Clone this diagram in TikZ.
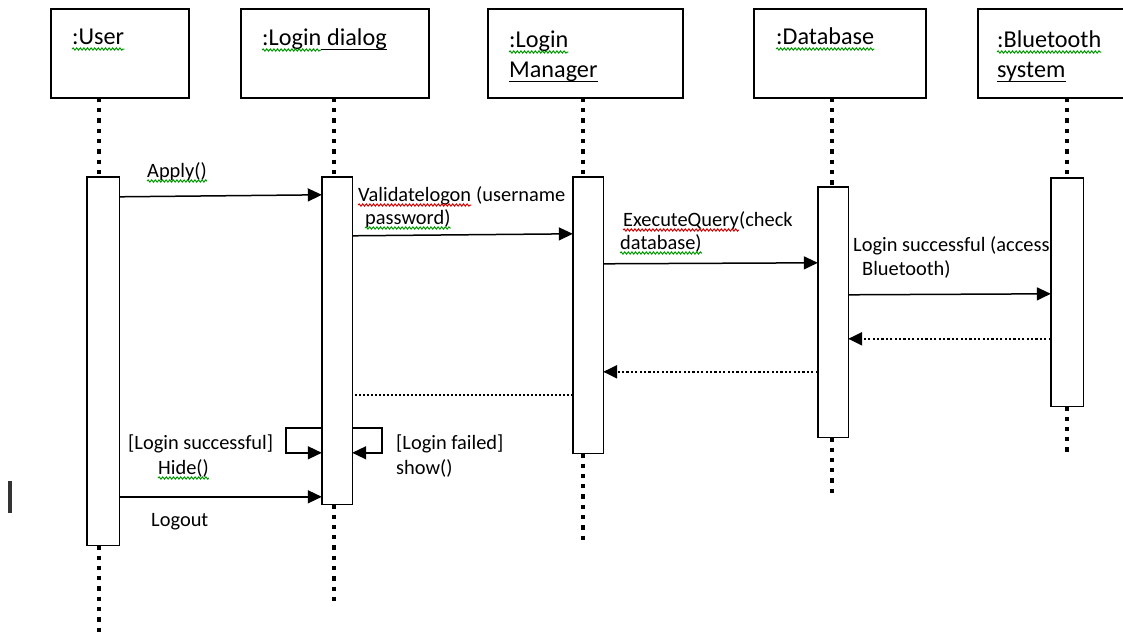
\documentclass[tikz,border=0pt]{standalone}
\usepackage{fontspec}
\setmainfont{Carlito}
\usetikzlibrary{arrows.meta,decorations.pathmorphing}

\begin{document}
\begin{tikzpicture}[x=1pt,y=-1pt,
  hdr/.style={font=\fontsize{24.2}{28}\selectfont, inner sep=0pt, anchor=base west},
  lbl/.style={font=\fontsize{20.4}{24}\selectfont, inner sep=0pt, anchor=base west},
  objbox/.style={draw, line width=1.6pt, fill=white, minimum height=87pt, inner sep=0pt},
  actbar/.style={draw, line width=1.4pt, fill=white, inner sep=0pt},
  life/.style={line width=4.3pt, dash pattern=on 4.3pt off 6pt},
  msg/.style={line width=1.5pt, -{Triangle[length=14pt,width=13pt]}},
  ret/.style={line width=2.2pt, dash pattern=on 2.2pt off 2.2pt, -{Triangle[length=14pt,width=13pt]}},
  retplain/.style={line width=2pt, dash pattern=on 2pt off 2pt},
  ul/.style={line width=1.3pt},
  spellg/.style={draw=green!60!black, line width=1pt, decorate,
                 decoration={snake, amplitude=1.1pt, segment length=3.6pt}},
  spellr/.style={spellg, draw=red!85!black}
]
\useasboundingbox (0,0) rectangle (1123,632);
\clip (0,0) rectangle (1123,632);

% object boxes
\node[objbox, minimum width=136pt] (oUser) at (120,53.5) {};
\node[objbox, minimum width=186pt] (oLd)   at (335,53.5) {};
\node[objbox, minimum width=193pt] (oLm)   at (585.5,53.5) {};
\node[objbox, minimum width=170pt] (oDb)   at (840,53.5) {};
\node[objbox, minimum width=170pt] (oBt)   at (1064,53.5) {};

% activation bars (placed now, drawn later on top of labels)
\path
  (103,361)   node[minimum width=32pt, minimum height=368pt, inner sep=0pt] (bUser) {}
  (337,340.5) node[minimum width=30pt, minimum height=327pt, inner sep=0pt] (bLd) {}
  (588,315)   node[minimum width=30pt, minimum height=276pt, inner sep=0pt] (bLm) {}
  (833,312)   node[minimum width=30pt, minimum height=250pt, inner sep=0pt] (bDb) {}
  (1067,292)  node[minimum width=32pt, minimum height=228pt, inner sep=0pt] (bBt) {};

% lifelines
\draw[life] ([xshift=-4pt]bUser.north |- oUser.south) -- ([xshift=-4pt]bUser.north);
\draw[life] ([xshift=-4pt]bUser.south) -- ++(0,90);
\draw[life] ([xshift=-3pt]bLd.north |- oLd.south) -- ([xshift=-3pt]bLd.north);
\draw[life] ([xshift=-3pt]bLd.south) -- ++(0,97);
\draw[life] ([xshift=-5pt]bLm.north |- oLm.south) -- ([xshift=-5pt]bLm.north);
\draw[life] ([xshift=-5pt]bLm.south) -- ++(0,89);
\draw[life] ([xshift=-1pt]bDb.north |- oDb.south) -- ([xshift=-1pt]bDb.north);
\draw[life] ([xshift=-1pt]bDb.south) -- ++(0,58);
\draw[life] (bBt.north |- oBt.south) -- (bBt.north);
\draw[life] (bBt.south) -- ++(0,48);

\draw[line width=1.6pt, fill=white] (oUser.north west) rectangle (oUser.south east);
\draw[line width=1.6pt, fill=white] (oLd.north west) rectangle (oLd.south east);
\draw[line width=1.6pt, fill=white] (oLm.north west) rectangle (oLm.south east);
\draw[line width=1.6pt, fill=white] (oDb.north west) rectangle (oDb.south east);
\draw[line width=1.6pt, fill=white] (oBt.north west) rectangle (oBt.south east);

% object names
\node[hdr] (tUser) at (72,44) {:User};
\draw[spellg] ([yshift=-5pt]tUser.base west) -- ([yshift=-5pt]tUser.base east);

\node[hdr] (tLd1) at (262,45) {:Login};
\node[hdr] (tLd2) at (tLd1.base east) {\ dialog};
\draw[spellg] ([yshift=-5pt]tLd1.base west) -- ([yshift=-5pt]tLd1.base east);
\draw[ul] ([yshift=-4.5pt]tLd2.base west) -- ([yshift=-4.5pt]tLd2.base east);

\node[hdr] (tLm1) at (509,47) {:Login};
\draw[spellg] ([yshift=-5pt]tLm1.base west) -- ([yshift=-5pt]tLm1.base east);
\node[hdr] (tLm2) at (509,77) {Manager};
\draw[ul] ([yshift=-4.5pt]tLm2.base west) -- ([yshift=-4.5pt]tLm2.base east);

\node[hdr] (tDb) at (776,44) {:Database};
\draw[spellg] ([yshift=-5pt]tDb.base west) -- ([yshift=-5pt]tDb.base east);

\node[hdr] (tBt1) at (997,47) {:Bluetooth};
\draw[spellg] ([yshift=-5pt]tBt1.base west) -- ([yshift=-5pt]tBt1.base east);
\node[hdr] (tBt2) at (997,77) {system};
\draw[ul] ([yshift=-4.5pt]tBt2.base west) -- ([yshift=-4.5pt]tBt2.base east);

% message labels
\node[lbl] (lApply) at (147,177) {Apply()};
\draw[spellg] ([yshift=-4pt]lApply.base west) -- ([yshift=-4pt]lApply.base east);

\node[lbl] (lVal1) at (358,201) {Validatelogon};
\node[lbl] (lVal2) at (lVal1.base east) {\ (username};
\draw[spellr] ([yshift=-4pt]lVal1.base west) -- ([yshift=-4pt]lVal1.base east);
\node[lbl] (lVal3) at (365,224) {password)};
\draw[spellg] ([yshift=-4pt]lVal3.base west) -- ([yshift=-4pt]lVal3.base east);

\node[lbl] (lExe1) at (623,226) {ExecuteQuery};
\node[lbl] (lExe2) at (lExe1.base east) {(check};
\draw[spellr] ([yshift=-4pt]lExe1.base west) -- ([yshift=-4pt]lExe1.base east);
\node[lbl] (lExe3) at (620,249) {database)};
\draw[spellg] ([yshift=-4pt]lExe3.base west) -- ([yshift=-4pt]lExe3.base east);

\node[lbl] (lLs1) at (853,251) {Login successful (access};
\node[lbl] (lLs2) at (862,275) {Bluetooth)};

\node[lbl] (lHide1) at (128,449) {[Login successful]};
\node[lbl] (lHide2) at (158,474) {Hide()};
\draw[spellg] ([yshift=-4pt]lHide2.base west) -- ([yshift=-4pt]lHide2.base east);
\node[lbl] (lShow1) at (396,449) {[Login failed]};
\node[lbl] (lShow2) at (396,474) {show()};
\node[lbl] (lLogout) at (151,526) {Logout};

% activation bars
\foreach \b in {bUser,bLd,bLm,bDb,bBt}
  \draw[actbar] (\b.north west) rectangle (\b.south east);

% messages
\draw[msg] ([yshift=-20pt]bUser.north east) -- ([yshift=-18pt]bLd.north west);
\draw[msg] ([yshift=-59pt]bLd.north east) -- ([yshift=-57pt]bLm.north west);
\draw[msg] ([yshift=-87pt]bLm.north east) -- ([yshift=-76pt]bDb.north west);
\draw[msg] ([yshift=-108pt]bDb.north east) -- ([yshift=-116pt]bBt.north west);
\draw[ret] ([yshift=-161pt]bBt.north west) -- ([yshift=-152pt]bDb.north east);
\draw[ret] ([yshift=-185pt]bDb.north west) -- ([yshift=-195pt]bLm.north east);
\draw[retplain] ([yshift=-218pt]bLm.north west) -- ([yshift=-218pt]bLd.north east);
\draw[msg] ([yshift=-251pt]bLd.north west) -- ++(-36,0) |- ([yshift=-276pt]bLd.north west);
\draw[msg] ([yshift=-251pt]bLd.north east) -- ++(30,0) |- ([yshift=-276pt]bLd.north east);
\draw[msg] ([yshift=-320pt]bUser.north east) -- ([yshift=-320pt]bLd.north west);

% text cursor at the left margin
\fill[black!80] (8,481) rectangle (12,513);
\end{tikzpicture}
\end{document}
